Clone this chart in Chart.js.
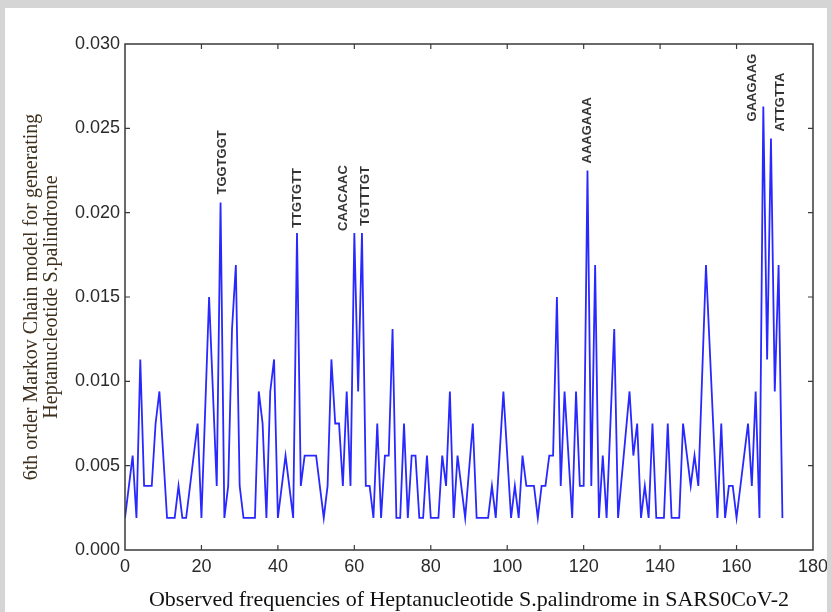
<!DOCTYPE html>
<html>
<head>
<meta charset="utf-8">
<script src="https://cdn.jsdelivr.net/npm/chart.js@4.4.1/dist/chart.umd.min.js"></script>
<style>
  html, body { margin: 0; padding: 0; background: #d5d5d5; }
  #wrap { position: absolute; left: 5px; top: 8px; width: 822px; height: 604px; background: #fff; }
</style>
</head>
<body>
<div id="wrap"><canvas id="myChart" width="822" height="604"></canvas></div>
<script>
// observed heptanucleotide index (x) and frequency (y)
const xs = [
    0, 2, 3, 4, 5, 7, 8, 9, 11, 13,
    14, 15, 16, 19, 20, 22, 24, 25, 26, 27,
    28, 29, 30, 31, 34, 35, 36, 37, 38, 39,
    40, 42, 44, 45, 46, 47, 50, 52, 53, 54,
    55, 56, 57, 58, 59, 60, 61, 62, 63, 64,
    65, 66, 67, 68, 69, 70, 71, 72, 73, 74,
    75, 76, 77, 78, 79, 80, 82, 83, 84, 85,
    86, 87, 89, 91, 92, 95, 96, 97, 99, 101,
    102, 103, 104, 105, 107, 108, 109, 110, 111, 112,
    113, 114, 115, 117, 118, 119, 120, 121, 122, 123,
    124, 125, 126, 128, 129, 132, 133, 134, 135, 136,
    137, 138, 139, 141, 142, 143, 145, 146, 148, 149,
    150, 152, 155, 156, 157, 158, 159, 160, 163, 164,
    165, 166, 167, 168, 169, 170, 171, 172
];
const freqs = [
    0.0019, 0.0056, 0.0019, 0.0113, 0.0038, 0.0038, 0.0075, 0.0094, 0.0019, 0.0019,
    0.0038, 0.0019, 0.0019, 0.0075, 0.0019, 0.0150, 0.0038, 0.0206, 0.0019, 0.0038,
    0.0131, 0.0169, 0.0038, 0.0019, 0.0019, 0.0094, 0.0075, 0.0019, 0.0094, 0.0113,
    0.0019, 0.0056, 0.0019, 0.0188, 0.0038, 0.0056, 0.0056, 0.0019, 0.0038, 0.0113,
    0.0075, 0.0075, 0.0038, 0.0094, 0.0038, 0.0188, 0.0094, 0.0188, 0.0038, 0.0038,
    0.0019, 0.0075, 0.0019, 0.0056, 0.0056, 0.0131, 0.0019, 0.0019, 0.0075, 0.0019,
    0.0056, 0.0056, 0.0019, 0.0019, 0.0056, 0.0019, 0.0019, 0.0056, 0.0038, 0.0094,
    0.0019, 0.0056, 0.0019, 0.0075, 0.0019, 0.0019, 0.0038, 0.0019, 0.0094, 0.0019,
    0.0038, 0.0019, 0.0056, 0.0038, 0.0038, 0.0019, 0.0038, 0.0038, 0.0056, 0.0056,
    0.0150, 0.0038, 0.0094, 0.0019, 0.0094, 0.0038, 0.0038, 0.0225, 0.0038, 0.0169,
    0.0019, 0.0056, 0.0019, 0.0131, 0.0019, 0.0094, 0.0056, 0.0075, 0.0019, 0.0038,
    0.0019, 0.0075, 0.0019, 0.0019, 0.0075, 0.0019, 0.0019, 0.0075, 0.0038, 0.0056,
    0.0038, 0.0169, 0.0019, 0.0075, 0.0019, 0.0038, 0.0038, 0.0019, 0.0075, 0.0038,
    0.0094, 0.0019, 0.0263, 0.0113, 0.0244, 0.0094, 0.0169, 0.0019
];

const xTicks = [0, 20, 40, 60, 80, 100, 120, 140, 160, 180];
const yTicks = [0.000, 0.005, 0.010, 0.015, 0.020, 0.025, 0.030];

// labelled peaks
const peakNames = ['TGGTGGT', 'TTGTGTT', 'CAACAAC', 'TGTTTGT', 'AAAGAAA', 'GAAGAAG', 'ATTGTTA'];
const peakAt = [25, 45, 60, 62, 121, 167, 169];
const peakDx = [2, 0, -11, 3, 0, -11, 9];
const peakGap = [8, 5, 2, 7, 7, -15, 7];

const points = xs.map((x, i) => ({ x: x, y: freqs[i] }));

const tickFont = { family: '"Liberation Sans", Arial, sans-serif', size: 18 };

const framePlugin = {
    id: 'frame',
    afterDraw(chart) {
        const c = chart.ctx;
        const a = chart.chartArea;
        const sx = chart.scales.x;
        const sy = chart.scales.y;
        c.save();
        c.strokeStyle = '#3a3a3a';
        c.lineWidth = 1.5;
        c.strokeRect(a.left, a.top, a.right - a.left, a.bottom - a.top);
        c.lineWidth = 1.2;
        c.beginPath();
        xTicks.slice(1, -1).forEach(v => {
            const p = sx.getPixelForValue(v);
            c.moveTo(p, a.bottom); c.lineTo(p, a.bottom - 5);
            c.moveTo(p, a.top); c.lineTo(p, a.top + 5);
        });
        yTicks.slice(1, -1).forEach(v => {
            const p = sy.getPixelForValue(v);
            c.moveTo(a.left, p); c.lineTo(a.left + 5, p);
            c.moveTo(a.right, p); c.lineTo(a.right - 5, p);
        });
        c.stroke();

        // peak names
        c.fillStyle = '#353535';
        c.font = 'bold 13px "Liberation Sans", Arial, sans-serif';
        c.textAlign = 'left';
        c.textBaseline = 'middle';
        peakNames.forEach((name, i) => {
            const idx = xs.indexOf(peakAt[i]);
            const px = sx.getPixelForValue(peakAt[i]) + peakDx[i];
            const py = sy.getPixelForValue(freqs[idx]) - peakGap[i];
            c.save();
            c.translate(px, py);
            c.rotate(-Math.PI / 2);
            c.fillText(name, 0, 0);
            c.restore();
        });
        c.restore();
    }
};

const ctx = document.getElementById('myChart').getContext('2d');

new Chart(ctx, {
    type: 'line',
    data: {
        datasets: [{
            data: points,
            borderColor: 'rgb(40, 40, 255)',
            borderWidth: 1.8,
            pointRadius: 0,
            tension: 0,
            fill: false
        }]
    },
    options: {
        responsive: false,
        animation: false,
        layout: { padding: { left: 0, top: 36, right: 14, bottom: 0 } },
        plugins: { legend: { display: false }, tooltip: { enabled: false } },
        scales: {
            x: {
                type: 'linear',
                min: 0,
                max: 180,
                afterBuildTicks: s => { s.ticks = xTicks.map(v => ({ value: v })); },
                afterFit: s => { s.height = 62; s.paddingRight = 0; },
                grid: { display: false, drawTicks: false },
                border: { display: false },
                ticks: { padding: 6, color: '#2a2a2a', font: tickFont },
                title: {
                    display: true,
                    text: 'Observed frequencies of Heptanucleotide S.palindrome in SARS0CoV-2',
                    color: '#111',
                    padding: { top: 0, bottom: 0 },
                    font: { family: '"Liberation Serif", "Times New Roman", serif', size: 22, lineHeight: 1.05 }
                }
            },
            y: {
                min: 0,
                max: 0.03,
                afterBuildTicks: s => { s.ticks = yTicks.map(v => ({ value: v })); },
                afterFit: s => { s.width = 120; },
                grid: { display: false, drawTicks: false },
                border: { display: false },
                ticks: {
                    padding: 5,
                    color: '#2a2a2a',
                    callback: v => v.toFixed(3),
                    font: tickFont
                },
                title: {
                    display: true,
                    text: ['6th order Markov Chain model for generating', 'Heptanucleotide S.palindrome'],
                    color: '#3d2f1c',
                    padding: { top: 17, bottom: 0 },
                    font: { family: '"Liberation Serif", "Times New Roman", serif', size: 20, lineHeight: 1.0 }
                }
            }
        }
    },
    plugins: [framePlugin]
});
</script>
</body>
</html>
